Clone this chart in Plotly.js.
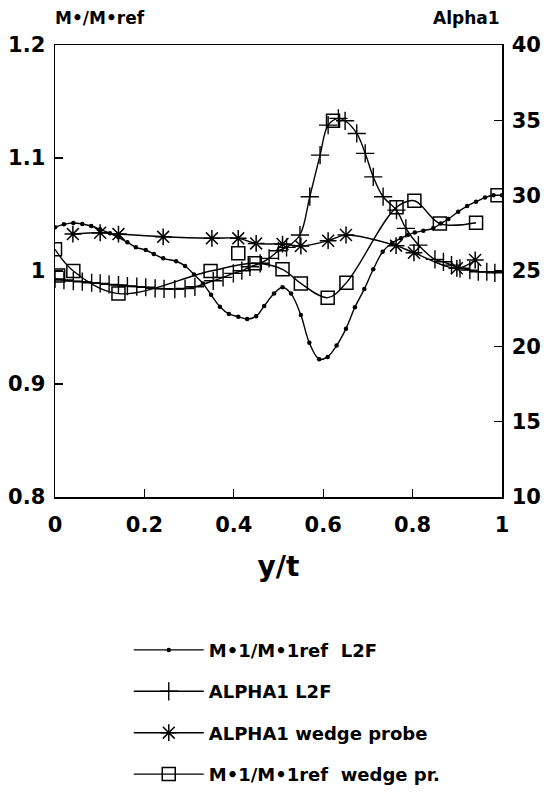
<!DOCTYPE html>
<html>
<head>
<meta charset="utf-8">
<script src="https://cdn.plot.ly/plotly-3.0.1.min.js"></script>
<style>html,body{margin:0;padding:0;background:#fff;}#chart{width:546px;height:797px;}</style>
</head>
<body>
<div id="chart"></div>
<script>
// M*1/M*1ref L2F (left axis)
const dotX = [0, 0.020, 0.041, 0.061, 0.081, 0.101, 0.123, 0.142, 0.162, 0.181, 0.203, 0.221, 0.242, 0.271, 0.291, 0.311, 0.331, 0.349, 0.369, 0.389, 0.410, 0.430, 0.450, 0.468, 0.490, 0.509, 0.528, 0.550, 0.569, 0.591, 0.610, 0.630, 0.651, 0.671, 0.692, 0.712, 0.733, 0.754, 0.774, 0.790, 0.805, 0.824, 0.846, 0.863, 0.880, 0.902, 0.922, 0.942, 0.962, 0.981, 1.0];
const dotY = [1.0387, 1.0413, 1.0425, 1.0416, 1.0398, 1.0369, 1.0334, 1.0298, 1.0254, 1.021, 1.0186, 1.015, 1.0112, 1.0086, 1.0044, 0.997, 0.989, 0.979, 0.9684, 0.962, 0.9596, 0.9575, 0.960, 0.969, 0.980, 0.9856, 0.980, 0.961, 0.9365, 0.922, 0.924, 0.934, 0.949, 0.968, 0.984, 1.0015, 1.017, 1.0248, 1.029, 1.032, 1.034, 1.0357, 1.0378, 1.042, 1.046, 1.0525, 1.0575, 1.0613, 1.065, 1.067, 1.067];

// ALPHA1 L2F (right axis)
const plusX = [0, 0.020, 0.041, 0.061, 0.082, 0.101, 0.121, 0.142, 0.162, 0.183, 0.203, 0.224, 0.244, 0.268, 0.291, 0.313, 0.354, 0.376, 0.399, 0.418, 0.436, 0.459, 0.479, 0.500, 0.518, 0.548, 0.570, 0.593, 0.611, 0.634, 0.649, 0.675, 0.694, 0.712, 0.734, 0.764, 0.785, 0.813, 0.850, 0.869, 0.887, 0.906, 0.928, 0.947, 0.966, 0.984];
const plusY = [24.47, 24.40, 24.33, 24.29, 24.22, 24.18, 24.11, 24.07, 24.00, 23.96, 23.92, 23.85, 23.82, 23.80, 23.84, 23.95, 24.35, 24.58, 24.84, 25.02, 25.28, 25.51, 25.84, 26.34, 26.57, 27.39, 29.93, 32.69, 34.68, 35.13, 34.97, 34.13, 32.81, 31.25, 29.93, 29.04, 27.83, 26.72, 25.77, 25.61, 25.39, 25.18, 25.06, 24.95, 24.95, 24.88];

// ALPHA1 wedge probe (right axis)
const starX = [0.040, 0.101, 0.142, 0.242, 0.351, 0.410, 0.450, 0.509, 0.550, 0.611, 0.651, 0.763, 0.803, 0.899, 0.940];
const starY = [27.45, 27.54, 27.45, 27.27, 27.17, 27.17, 26.83, 26.79, 26.66, 27.01, 27.39, 26.68, 26.21, 25.18, 25.73];

// M*1/M*1ref wedge pr. (left axis)
const boxX = [0, 0.041, 0.142, 0.348, 0.447, 0.509, 0.550, 0.610, 0.652, 0.764, 0.804, 0.861, 0.942];
const boxY = [1.0192, 1.000, 0.980, 1.000, 1.0068, 1.0015, 0.989, 0.9764, 0.9897, 1.0564, 1.0622, 1.042, 1.0427];
// isolated wedge-probe boxes
const boxExtraX = [0.007, 0.410, 0.622, 0.990];
const boxExtraY = [0.996, 1.0157, 1.133, 1.067];

const xTicks = [0, 0.2, 0.4, 0.6, 0.8, 1];
const xTickText = ['0', '0.2', '0.4', '0.6', '0.8', '1'];
const yTicks = [0.8, 0.9, 1.0, 1.1, 1.2];
const yTickText = ['0.8', '0.9', '1', '1.1', '1.2'];
const y2Ticks = [10, 15, 20, 25, 30, 35, 40];

const legendNames = ['M\u20221/M\u20221ref  L2F', 'ALPHA1 L2F', 'ALPHA1 wedge probe', 'M\u20221/M\u20221ref  wedge pr.'];

const FONT = 'DejaVu Sans, sans-serif';
const lineStyle = {color: '#000', width: 1.4, shape: 'spline', smoothing: 1};

const traces = [
  {x: dotX, y: dotY, yaxis: 'y', mode: 'lines+markers', name: legendNames[0], legendgroup: 'a',
   line: lineStyle, marker: {symbol: 'circle', size: 4.5, color: '#000'}},
  {x: plusX, y: plusY, yaxis: 'y2', mode: 'lines+markers', name: legendNames[1], legendgroup: 'b',
   line: lineStyle, marker: {symbol: 'cross-thin-open', size: 13, color: '#000', line: {color: '#000', width: 1.4}}},
  {x: starX, y: starY, yaxis: 'y2', mode: 'lines+markers', name: legendNames[2], legendgroup: 'c',
   line: lineStyle, marker: {symbol: 'asterisk-open', size: 14, color: '#000', line: {color: '#000', width: 1.5}}},
  {x: boxX, y: boxY, yaxis: 'y', mode: 'lines+markers', name: legendNames[3], legendgroup: 'd',
   line: lineStyle, marker: {symbol: 'square-open', size: 13, color: '#000', line: {color: '#000', width: 1.5}}},
  {x: boxExtraX, y: boxExtraY, yaxis: 'y', mode: 'markers', showlegend: false, legendgroup: 'd',
   marker: {symbol: 'square-open', size: 13, color: '#000', line: {color: '#000', width: 1.5}}}
];

const layout = {
  width: 546, height: 797,
  margin: {l: 55, r: 44, t: 45, b: 300, autoexpand: false},
  paper_bgcolor: '#fff', plot_bgcolor: '#fff',
  font: {family: FONT, color: '#000', weight: 'bold'},
  showlegend: true,
  legend: {x: 0.165, y: -0.298, xanchor: 'left', yanchor: 'top',
           font: {size: 18, family: FONT, color: '#000', weight: 'bold'},
           tracegroupgap: 15, bgcolor: 'rgba(0,0,0,0)', itemwidth: 70},
  xaxis: {range: [0, 1], tickvals: xTicks, ticktext: xTickText, ticks: 'inside', ticklen: 8, tickwidth: 1.3,
          tickcolor: '#000', showline: true, linecolor: '#000', linewidth: 1.5, mirror: true, showgrid: false, zeroline: false,
          tickfont: {size: 21, family: FONT, color: '#000', weight: 'bold'}, ticklabelstandoff: 8,
          title: {text: 'y/t', font: {size: 28, family: FONT, color: '#000', weight: 'bold'}, standoff: 20}},
  yaxis: {range: [0.8, 1.2], tickvals: yTicks, ticktext: yTickText, ticks: 'inside', ticklen: 8, tickwidth: 1.3,
          tickcolor: '#000', showline: true, linecolor: '#000', linewidth: 1.5, showgrid: false, zeroline: false,
          tickfont: {size: 21, family: FONT, color: '#000', weight: 'bold'}, ticklabelstandoff: 4},
  yaxis2: {range: [10, 40], tickvals: y2Ticks, overlaying: 'y', side: 'right', ticks: 'inside', ticklen: 8, tickwidth: 1.3,
           tickcolor: '#000', showline: true, linecolor: '#000', linewidth: 1.5, showgrid: false, zeroline: false,
           tickfont: {size: 21, family: FONT, color: '#000', weight: 'bold'}, ticklabelstandoff: 4},
  annotations: [
    {text: 'M\u2022/M\u2022ref', xref: 'paper', yref: 'paper', x: -0.005, y: 1, xanchor: 'left', yanchor: 'bottom', yshift: 15,
     showarrow: false, font: {size: 17, family: FONT, color: '#000', weight: 'bold'}},
    {text: 'Alpha1', xref: 'paper', yref: 'paper', x: 1, y: 1, xanchor: 'right', yanchor: 'bottom', yshift: 15,
     showarrow: false, font: {size: 17, family: FONT, color: '#000', weight: 'bold'}}
  ]
};

Plotly.newPlot('chart', traces, layout, {staticPlot: true, displayModeBar: false});
</script>
</body>
</html>
